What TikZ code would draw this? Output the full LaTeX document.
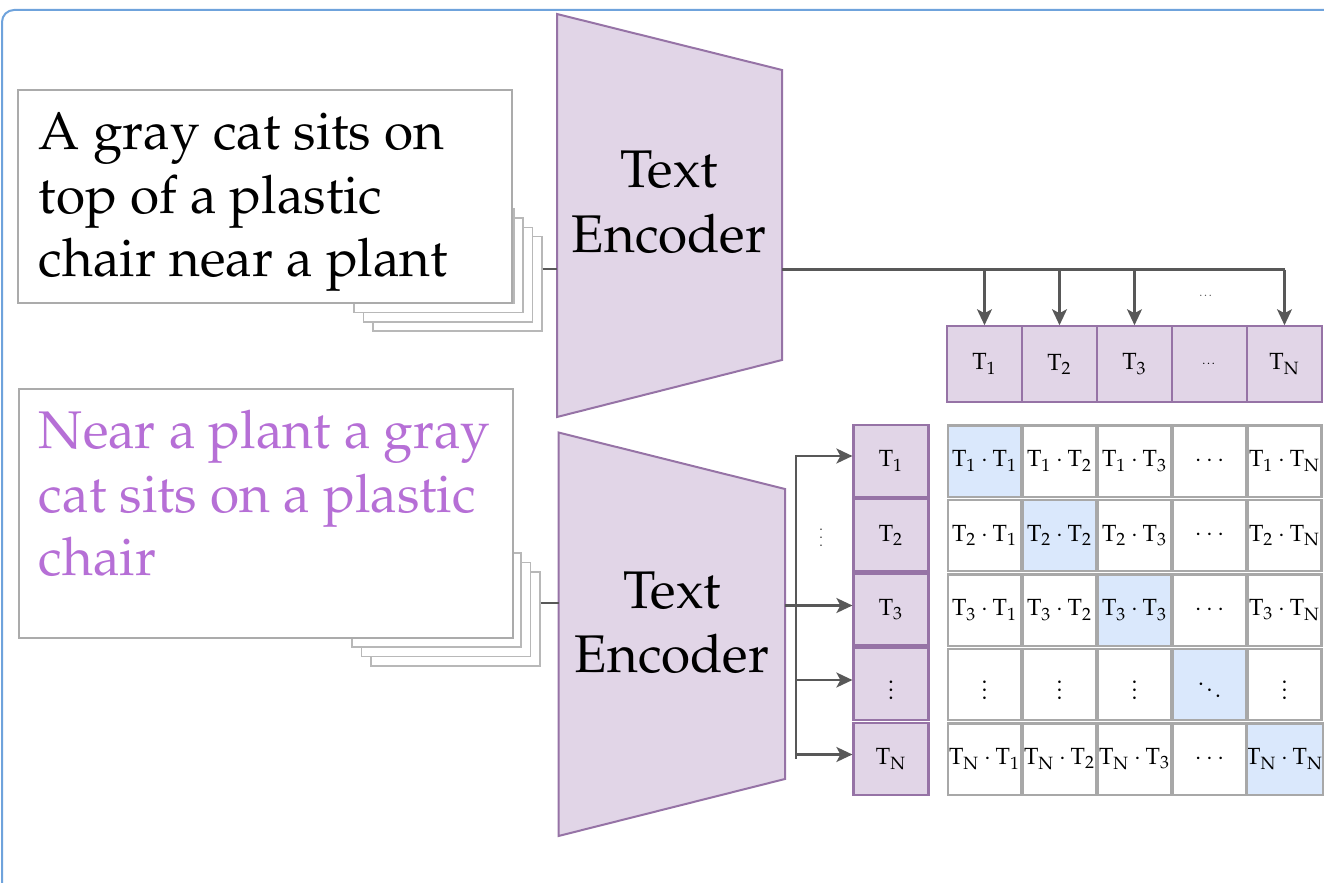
\documentclass[tikz,border=0pt]{standalone}
\usepackage[T1]{fontenc}
\usepackage{mathpazo}
\usetikzlibrary{arrows.meta}

\definecolor{encfill}{HTML}{E1D5E7}
\definecolor{encline}{HTML}{9673A6}
\definecolor{boxline}{HTML}{ABABAB}
\definecolor{stackline}{HTML}{B8B8B8}
\definecolor{wire}{HTML}{585858}
\definecolor{diagfill}{HTML}{DAE8FC}
\definecolor{gridline}{HTML}{A8A8A8}
\definecolor{frameblue}{HTML}{6FA3DC}
\definecolor{promptpurple}{HTML}{B66FD6}

\newcommand\tkn[1]{$\mathrm{T}_{\mathrm{#1}}$}
\newcommand\dotp[2]{$\mathrm{T}_{\mathrm{#1}}\cdot\mathrm{T}_{\mathrm{#2}}$}

\begin{document}
\begin{tikzpicture}[x=0.5pt,y=-0.5pt,
  frame/.style={draw=frameblue,line width=1pt,rounded corners=6pt},
  caption/.style={draw=boxline,line width=0.9pt,fill=white,rectangle,inner sep=0pt,anchor=north west},
  stackbox/.style={draw=stackline,line width=0.8pt,fill=white,rectangle,inner sep=0pt,anchor=north west,
    minimum width=84.5pt,minimum height=47.2pt},
  bigtext/.style={anchor=base west,inner sep=0pt,font=\fontsize{26.5}{31.75}\selectfont},
  enc/.style={draw=encline,fill=encfill,line width=1pt,line join=miter},
  enctext/.style={anchor=base,inner sep=0pt,font=\fontsize{26.5}{31.75}\selectfont},
  wireline/.style={draw=wire,line width=1.05pt},
  arrowwire/.style={wireline,-{Stealth[length=8pt,width=7.5pt,inset=2pt]}},
  rowtok/.style={draw=encline,fill=encfill,line width=0.8pt,rectangle,inner sep=0pt,
    minimum width=37.5pt,minimum height=38pt,font=\fontsize{11.7}{13}\selectfont},
  coltok/.style={draw=encline,fill=encfill,line width=1.1pt,rectangle,inner sep=0pt,
    minimum width=37.5pt,minimum height=36pt,font=\fontsize{11.7}{13}\selectfont},
  cell/.style={draw=gridline,line width=1.1pt,fill=white,rectangle,inner sep=0pt,
    minimum width=36.9pt,minimum height=35.6pt,font=\fontsize{11.7}{13}\selectfont},
  diag/.style={cell,fill=diagfill},
  tinydots/.style={inner sep=0pt,text=wire,font=\fontsize{6}{7}\selectfont},
]
\useasboundingbox (0,0) rectangle (1324,883);
\clip (0,0) rectangle (1324,883);

% outer frame (runs past the right and bottom edges)
\draw[frame] (2,10) rectangle (1400,960);

% ---------- first prompt with its stack of pages ----------
\foreach \k in {3,2,1,0}
  \node[stackbox] (sa\k) at ({344+9.3*\k},{208+9.3*\k}) {};
\node[caption,minimum width=247pt,minimum height=106.5pt] (cap1) at (17,89) {};
\node[bigtext] (cap1a) at (38.5,150) {A gray cat sits on};
\node[bigtext] (cap1b) at (38.5,213.5) {top of a plastic};
\node[bigtext] (cap1c) at (38.5,277) {chair near a plant};

% ---------- second prompt with its stack of pages ----------
\foreach \k in {3,2,1,0}
  \node[stackbox,minimum height=47pt] (sb\k) at ({341.5+9.5*\k},{543+9.4*\k}) {};
\node[caption,minimum width=247pt,minimum height=124.5pt] (cap2) at (18,388) {};
\node[bigtext,text=promptpurple] (cap2a) at (38.6,448) {Near a plant a gray};
\node[bigtext,text=promptpurple] (cap2b) at (38.6,512) {cat sits on a plastic};
\node[bigtext,text=promptpurple] (cap2c) at (38.6,575) {chair};

% ---------- encoders ----------
\draw[enc] (557,14) -- (782,70) -- (782,360) -- (557,417) -- cycle;
\coordinate (e1in) at (557,269);
\coordinate (e1out) at (782,269.5);
\node[enctext] (e1a) at (669,188) {Text};
\node[enctext] (e1b) at (669,252) {Encoder};

\draw[enc] (558.5,432.5) -- (785,489) -- (785,779) -- (558.5,836) -- cycle;
\coordinate (e2in) at (558.5,603);
\coordinate (e2out) at (785,605.5);
\node[enctext] (e2a) at (672,608) {Text};
\node[enctext] (e2b) at (672,672) {Encoder};

\draw[wireline] (sa3.east |- e1in) -- (e1in);
\draw[wireline] (sb3.east |- e2in) -- (e2in);

% ---------- row of embeddings from the first encoder ----------
\node[rowtok] (r1) at (984.5,364) {\tkn{1}};
\node[rowtok] (r2) at (1059.5,364) {\tkn{2}};
\node[rowtok] (r3) at (1134.5,364) {\tkn{3}};
\node[rowtok] (r4) at (1209.5,364) {\fontsize{6}{7}\selectfont\ldots};
\node[rowtok] (r5) at (1284.5,364) {\tkn{N}};

\draw[wireline] (e1out) -- (e1out -| r5.north);
\foreach \n in {1,2,3,5}
  \draw[arrowwire] (e1out -| r\n.north) -- (r\n.north);
\node[tinydots] (topdots) at (1206.5,296) {\ldots};

% ---------- column of embeddings from the second encoder ----------
\node[coltok] (c1) at (891,461) {\tkn{1}};
\node[coltok] (c2) at (891,535) {\tkn{2}};
\node[coltok] (c3) at (891,609.5) {\tkn{3}};
\node[coltok] (c4) at (891,684) {$\vdots$};
\node[coltok] (c5) at (891,759) {\tkn{N}};

\coordinate (b1) at (796,456);
\coordinate (b3) at (796,605.5);
\coordinate (b4) at (796,680);
\coordinate (b5) at (796,754.5);
\coordinate (btop) at (796,455);
\coordinate (bbot) at (796,759);
\draw[wireline] (e2out) -- (b3);
\draw[wireline] (btop) -- (bbot);
\foreach \n in {1,3,4,5}
  \draw[arrowwire] (b\n) -- (b\n -| c\n.west);
\node[tinydots,font=\fontsize{7}{8}\selectfont,text=black!80] (sidedots) at (821,532) {$\vdots$};

% ---------- similarity matrix ----------
\foreach \i/\a in {1/1,2/2,3/3,5/N} {
  \foreach \j/\b in {1/1,2/2,3/3,5/N} {
    \ifnum\i=\j
      \node[diag] (m\i\j) at ({984.5+75*(\j-1)},{461+74.5*(\i-1)}) {\dotp{\a}{\b}};
    \else
      \node[cell] (m\i\j) at ({984.5+75*(\j-1)},{461+74.5*(\i-1)}) {\dotp{\a}{\b}};
    \fi
  }
  \node[cell] (m\i4) at (1209.5,{461+74.5*(\i-1)}) {$\cdots$};
}
\foreach \j in {1,2,3,5}
  \node[cell] (m4\j) at ({984.5+75*(\j-1)},684.5) {$\vdots$};
\node[diag] (m44) at (1209.5,684.5) {$\ddots$};

\end{tikzpicture}
\end{document}
